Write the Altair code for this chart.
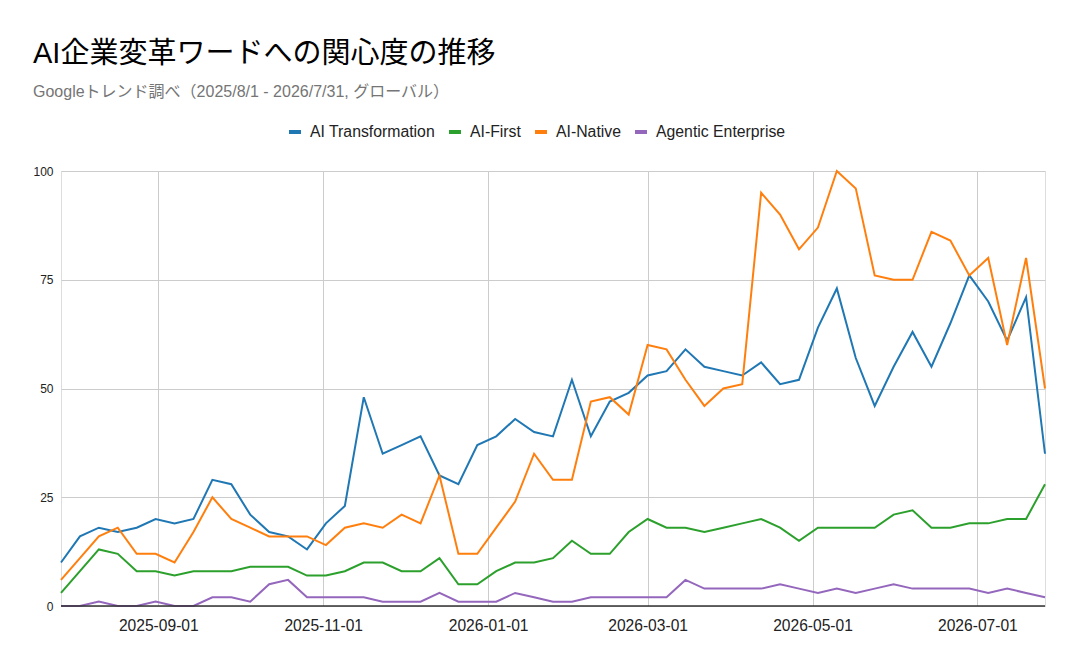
import altair as alt
import pandas as pd

weeks = [d.strftime("%Y-%m-%d") for d in pd.date_range("2025-07-27", periods=53, freq="7D")]

series_names = ["AI Transformation", "AI-First", "AI-Native", "Agentic Enterprise"]
series_colors = ["#1f77b4", "#2ca02c", "#ff7f0e", "#9467bd"]

ai_transformation = [10, 16, 18, 17, 18, 20, 19, 20, 29, 28, 21, 17, 16, 13, 19, 23, 48, 35, 37, 39,
                     30, 28, 37, 39, 43, 40, 39, 52, 39, 47, 49, 53, 54, 59, 55, 54, 53, 56, 51, 52,
                     64, 73, 57, 46, 55, 63, 55, 65, 76, 70, 61, 71, 35]
ai_first = [3, 8, 13, 12, 8, 8, 7, 8, 8, 8, 9, 9, 9, 7, 7, 8, 10, 10, 8, 8,
            11, 5, 5, 8, 10, 10, 11, 15, 12, 12, 17, 20, 18, 18, 17, 18, 19, 20, 18, 15,
            18, 18, 18, 18, 21, 22, 18, 18, 19, 19, 20, 20, 28]
ai_native = [6, 11, 16, 18, 12, 12, 10, 17, 25, 20, 18, 16, 16, 16, 14, 18, 19, 18, 21, 19,
             30, 12, 12, 18, 24, 35, 29, 29, 47, 48, 44, 60, 59, 52, 46, 50, 51, 95, 90, 82,
             87, 100, 96, 76, 75, 75, 86, 84, 76, 80, 60, 80, 50]
agentic_enterprise = [0, 0, 1, 0, 0, 1, 0, 0, 2, 2, 1, 5, 6, 2, 2, 2, 2, 1, 1, 1,
                      3, 1, 1, 1, 3, 2, 1, 1, 2, 2, 2, 2, 2, 6, 4, 4, 4, 4, 5, 4,
                      3, 4, 3, 4, 5, 4, 4, 4, 4, 3, 4, 3, 2]

y_ticks = [0, 25, 50, 75, 100]

rows = []
for name, vals in zip(series_names, [ai_transformation, ai_first, ai_native, agentic_enterprise]):
    for d, v in zip(weeks, vals):
        rows.append({"date": d, "series": name, "value": v})
df = pd.DataFrame(rows)

FONT = "Liberation Sans, Arial, Noto Sans CJK JP, sans-serif"

x_ticks = [alt.DateTime(year=2025, month=9, date=1, utc=True),
           alt.DateTime(year=2025, month=11, date=1, utc=True),
           alt.DateTime(year=2026, month=1, date=1, utc=True),
           alt.DateTime(year=2026, month=3, date=1, utc=True),
           alt.DateTime(year=2026, month=5, date=1, utc=True),
           alt.DateTime(year=2026, month=7, date=1, utc=True)]

chart = alt.Chart(df).mark_line(strokeWidth=2).encode(
    x=alt.X("date:T",
            scale=alt.Scale(type="utc",
                            domain=[alt.DateTime(year=2025, month=7, date=27, utc=True),
                                    alt.DateTime(year=2026, month=7, date=26, utc=True)]),
            axis=alt.Axis(title=None, values=x_ticks, format="%Y-%m-%d", labelFontSize=15.6,
                          labelColor="#222222", labelFont=FONT, ticks=False, domain=False,
                          grid=True, gridColor="#cccccc", labelPadding=12, labelFlush=False)),
    y=alt.Y("value:Q",
            scale=alt.Scale(domain=[0, 100], nice=False),
            axis=alt.Axis(title=None, values=y_ticks, labelFontSize=12, labelColor="#222222",
                          labelFont=FONT, ticks=False, domain=False, grid=True,
                          gridColor="#cccccc", labelPadding=8)),
    color=alt.Color("series:N",
                    scale=alt.Scale(domain=series_names, range=series_colors),
                    legend=alt.Legend(title=None, orient="none", direction="horizontal",
                                      legendX=226, legendY=-47, symbolType="stroke",
                                      symbolSize=144, symbolStrokeWidth=4, labelFontSize=15.8,
                                      labelFont=FONT, labelColor="#222222", columnPadding=6,
                                      labelOffset=7, padding=0)),
)

baseline = alt.Chart(pd.DataFrame({"y": [0]})).mark_rule(color="#333333", strokeWidth=1.5).encode(
    y=alt.Y("y:Q", scale=alt.Scale(domain=[0, 100], nice=False)))

layered = alt.layer(chart, baseline).properties(
    width=984, height=435,
    padding={"left": 53, "top": 163, "right": 26, "bottom": 53},
    autosize=alt.AutoSizeParams(type="none"),
    title=alt.TitleParams(
        text="AI企業変革ワードへの関心度の推移",
        subtitle="Googleトレンド調べ（2025/8/1 - 2026/7/31, グローバル）",
        anchor="start", frame="group", dx=-28, offset=24,
        font=FONT, fontSize=29, fontWeight="normal", color="#000000",
        subtitleFont=FONT, subtitleFontSize=16, subtitleColor="#757575", subtitlePadding=15),
).configure_view(stroke=None).configure(background="white")

layered.save("out.html", embed_options={"renderer": "svg", "actions": False})
